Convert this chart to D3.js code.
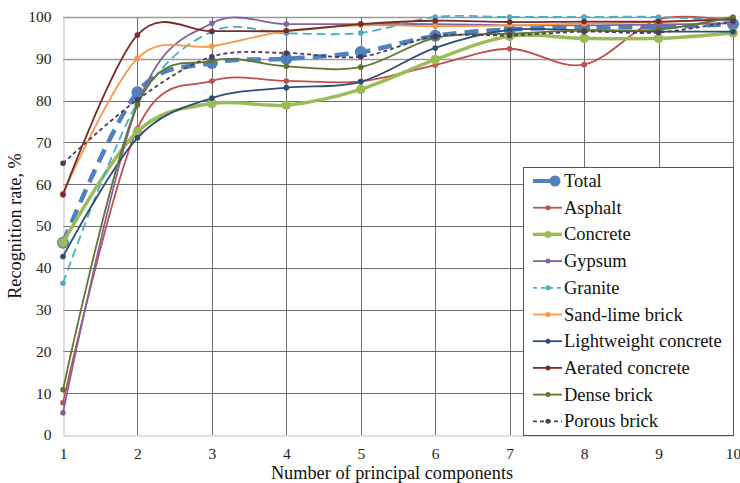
<!DOCTYPE html>
<html lang="en">
<head>
    <meta charset="UTF-8">
    <title>Recognition rate</title>
    <script src="https://d3js.org/d3.v7.min.js"></script>
    <style>
        html, body { margin: 0; padding: 0; background: #fff; overflow: hidden; }
        svg { display: block; }
    </style>
</head>
<body>
    <script>
        // Data
        const components = [1, 2, 3, 4, 5, 6, 7, 8, 9, 10];
        const seriesNames = ["Total", "Asphalt", "Concrete", "Gypsum", "Granite", "Sand-lime brick",
            "Lightweight concrete", "Aerated concrete", "Dense brick", "Porous brick"];
        const total       = [46.0, 82.0, 89.0, 90.0, 91.6, 95.5, 97.0, 97.5, 97.6, 98.3];
        const asphalt     = [7.7, 73.3, 84.7, 84.7, 84.6, 88.5, 92.4, 88.6, 99.4, 99.0];
        const concrete    = [46.0, 72.6, 79.3, 78.9, 82.7, 89.8, 95.4, 94.9, 94.9, 96.2];
        const gypsum      = [5.3, 79.0, 98.5, 98.3, 98.3, 98.3, 98.0, 98.0, 98.2, 98.5];
        const granite     = [36.3, 79.5, 96.5, 96.1, 96.2, 100, 100, 100, 100, 99.0];
        const sandLime    = [57.8, 90.1, 93.0, 96.6, 98.0, 97.8, 98.0, 98.4, 98.8, 99.5];
        const lightweight = [42.7, 71.1, 80.6, 83.1, 84.5, 92.6, 96.9, 96.8, 96.5, 96.5];
        const aerated     = [57.5, 95.7, 96.6, 96.7, 98.3, 99.1, 98.8, 98.9, 98.9, 99.5];
        const denseBrick  = [10.8, 79.0, 89.5, 88.2, 88.0, 95.0, 96.0, 96.8, 97.0, 100];
        const porousBrick = [65.0, 80.2, 90.5, 91.4, 90.5, 95.4, 95.6, 96.5, 96.3, 99.0];
        const yTicks = [0, 10, 20, 30, 40, 50, 60, 70, 80, 90, 100];

        const seriesValues = [total, asphalt, concrete, gypsum, granite, sandLime,
            lightweight, aerated, denseBrick, porousBrick];
        const seriesColors = ["#4F81BD", "#C0504D", "#9BBB59", "#8064A2", "#4BACC6", "#F79646",
            "#2C4D75", "#772C2A", "#5F7530", "#4D3B62"];
        const seriesWidths = [4.5, 1.8, 3.5, 1.8, 1.8, 1.8, 1.8, 1.8, 1.8, 1.8];
        const seriesDash   = ["14,8", null, null, null, "9,5", null, null, null, null, "4,3"];
        const markerRadius = [6, 2.8, 4.8, 2.8, 2.8, 2.8, 2.8, 2.8, 2.8, 2.8];

        const serif = "Liberation Serif";
        const width = 740, height = 483;
        const svg = d3.select("body").append("svg")
            .attr("width", width)
            .attr("height", height);

        const x = d3.scaleLinear().domain([1, 10]).range([63, 733]);
        const y = d3.scaleLinear().domain([0, 100]).range([435, 17]);

        // Gridlines
        const grid = svg.append("g");
        grid.selectAll("line.h")
            .data(yTicks.filter(d => d > 0))
            .enter().append("line")
            .attr("x1", x(1)).attr("x2", x(10))
            .attr("y1", d => Math.round(y(d)) + 0.5).attr("y2", d => Math.round(y(d)) + 0.5)
            .attr("stroke", d => d >= 90 ? "#9a9a9a" : "#6e6e6e")
            .attr("stroke-width", d => d >= 90 ? 1.6 : 1);
        grid.selectAll("line.v")
            .data(components.slice(1))
            .enter().append("line")
            .attr("x1", d => Math.round(x(d)) + 0.5).attr("x2", d => Math.round(x(d)) + 0.5)
            .attr("y1", y(0)).attr("y2", y(100))
            .attr("stroke", "#6e6e6e")
            .attr("stroke-width", 1);

        // Axes
        const xAxis = svg.append("g")
            .attr("transform", `translate(0,${Math.round(y(0)) + 0.5})`)
            .call(d3.axisBottom(x).tickValues(components).tickFormat(d3.format("d")).tickSize(0).tickPadding(12));
        xAxis.select(".domain").attr("stroke", "#bdbdbd");
        xAxis.selectAll("text").attr("font-size", 15.5).attr("fill", "#222")
            .attr("font-family", serif);

        const yAxis = svg.append("g")
            .attr("transform", `translate(${Math.round(x(1)) + 0.5},0)`)
            .call(d3.axisLeft(y).tickValues(yTicks).tickSize(0).tickPadding(12));
        yAxis.select(".domain").attr("stroke", "#bdbdbd");
        yAxis.selectAll("text").attr("font-size", 15.5).attr("fill", "#222")
            .attr("font-family", serif);

        svg.append("text")
            .attr("x", 392).attr("y", 479)
            .attr("text-anchor", "middle")
            .attr("font-family", serif)
            .attr("font-size", 18.3)
            .attr("fill", "#111")
            .text("Number of principal components");

        svg.append("text")
            .attr("transform", "translate(21,226) rotate(-90)")
            .attr("text-anchor", "middle")
            .attr("font-family", serif)
            .attr("font-size", 18.3)
            .attr("fill", "#111")
            .text("Recognition rate, %");

        // Series
        const line = d3.line()
            .x((d, i) => x(components[i]))
            .y(d => y(d))
            .curve(d3.curveCardinal.tension(0));

        const series = svg.append("g")
            .selectAll("g")
            .data(seriesValues)
            .enter().append("g");

        series.append("path")
            .attr("d", d => line(d))
            .attr("fill", "none")
            .attr("stroke", (d, i) => seriesColors[i])
            .attr("stroke-width", (d, i) => seriesWidths[i])
            .attr("stroke-dasharray", (d, i) => seriesDash[i]);

        series.each(function (vals, si) {
            d3.select(this).selectAll("circle")
                .data(vals)
                .enter().append("circle")
                .attr("cx", (d, i) => x(components[i]))
                .attr("cy", d => y(d))
                .attr("r", markerRadius[si])
                .attr("fill", seriesColors[si]);
        });

        // Legend
        const legend = svg.append("g");
        legend.append("rect")
            .attr("x", 523.5).attr("y", 167.5)
            .attr("width", 210).attr("height", 268)
            .attr("fill", "#fff")
            .attr("stroke", "#555")
            .attr("stroke-width", 1);

        const item = legend.selectAll("g.item")
            .data(seriesNames)
            .enter().append("g")
            .attr("transform", (d, i) => `translate(0,${181 + i * 26.7})`);

        item.append("line")
            .attr("x1", 533).attr("x2", (d, i) => i === 0 ? 552 : 562)
            .attr("y1", 0).attr("y2", 0)
            .attr("stroke", (d, i) => seriesColors[i])
            .attr("stroke-width", (d, i) => Math.min(seriesWidths[i], 4))
            .attr("stroke-dasharray", (d, i) => i === 0 ? null : (i === 4 ? "4,4" : seriesDash[i]));

        item.append("circle")
            .attr("cx", (d, i) => i === 0 ? 555 : 548)
            .attr("cy", 0)
            .attr("r", (d, i) => i === 0 ? 5.5 : (i === 2 ? 3.5 : 2.5))
            .attr("fill", (d, i) => seriesColors[i]);

        item.append("text")
            .attr("x", 564).attr("y", 6)
            .attr("font-family", serif)
            .attr("font-size", 18.5)
            .attr("fill", "#111")
            .text(d => d);
    </script>
</body>
</html>
